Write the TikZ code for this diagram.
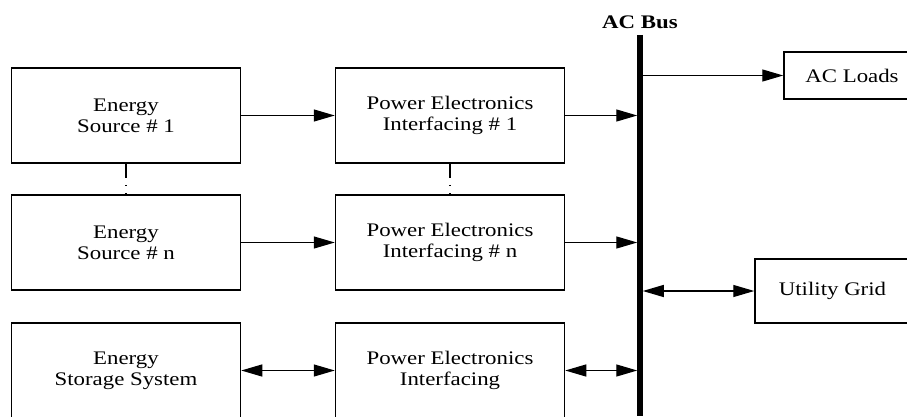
\documentclass[tikz,border=0pt]{standalone}
\usepackage{fontspec}
\setmainfont{Liberation Serif}[FakeStretch=1.19]
\usepackage{tikz}
\usetikzlibrary{positioning,arrows.meta,calc}
\tikzset{
  blk/.style   ={draw=black, line width=1.5pt, align=center, inner sep=2pt,
                 font=\fontsize{19.2}{20.7}\selectfont},
  ar/.style    ={-{Triangle[length=21pt,width=12pt]}, draw=black, line width=1.3pt},
  dar/.style   ={{Triangle[length=21pt,width=12pt]}-{Triangle[length=21pt,width=12pt]},
                 draw=black, line width=1.3pt},
  dotsline/.style={draw=black, line width=1.5pt, dash pattern=on 14pt off 7pt on 1.5pt off 7pt},
}
\begin{document}
\begin{tikzpicture}[x=1pt,y=1pt]
\useasboundingbox (0,0) rectangle (907,416);
\clip (0,0) rectangle (907,416);
% sources and interfaces
\node[blk, minimum width=229pt, minimum height=95pt] (es1) at (126,300.5) {Energy\\Source \# 1};
\node[blk, minimum width=229pt, minimum height=95pt] (esn) at (126,173.5) {Energy\\Source \# n};
\node[blk, minimum width=229pt, minimum height=95pt] (ess) at (126,45.5) {Energy\\Storage System};
\node[blk, minimum width=229pt, minimum height=95pt] (pe1) at (450,300.5) {Power Electronics\\Interfacing \# 1};
\node[blk, minimum width=229pt, minimum height=95pt] (pen) at (450,173.5) {Power Electronics\\Interfacing \# n};
\node[blk, minimum width=229pt, minimum height=95pt] (pes) at (450,45.5) {Power Electronics\\Interfacing};

% bus
\coordinate (bustop) at (640,381);
\coordinate (busbot) at (640,0);
\draw[line width=5.5pt] (bustop) -- (busbot);
\node[font=\fontsize{19.2}{20.7}\selectfont\bfseries, above=6.5pt of bustop, inner sep=0pt] (buslbl) {AC Bus};

% loads and grid
\node[blk, minimum width=136pt, minimum height=47pt] (loads) at (852,340.5) {AC Loads};
\node[blk, minimum width=155pt, minimum height=64pt] (grid) at (832.5,125) {Utility Grid};

% links
\draw[ar] (es1) -- (pe1);
\draw[ar] (esn) -- (pen);
\draw[dar] (ess) -- (pes);
\draw[ar, shorten >=2.75pt] (pe1.east) -- (pe1.east -| bustop);
\draw[ar, shorten >=2.75pt] (pen.east) -- (pen.east -| bustop);
\draw[dar, shorten >=2.75pt] (pes.east) -- (pes.east -| bustop);
\draw[ar, shorten <=2.75pt] (loads.west -| bustop) -- (loads.west);
\draw[dar, shorten <=2.75pt] (grid.west -| bustop) -- (grid.west);

% continuation marks
\draw[dotsline] (es1.south) -- (esn.north);
\draw[dotsline] (pe1.south) -- (pen.north);
\end{tikzpicture}
\end{document}
